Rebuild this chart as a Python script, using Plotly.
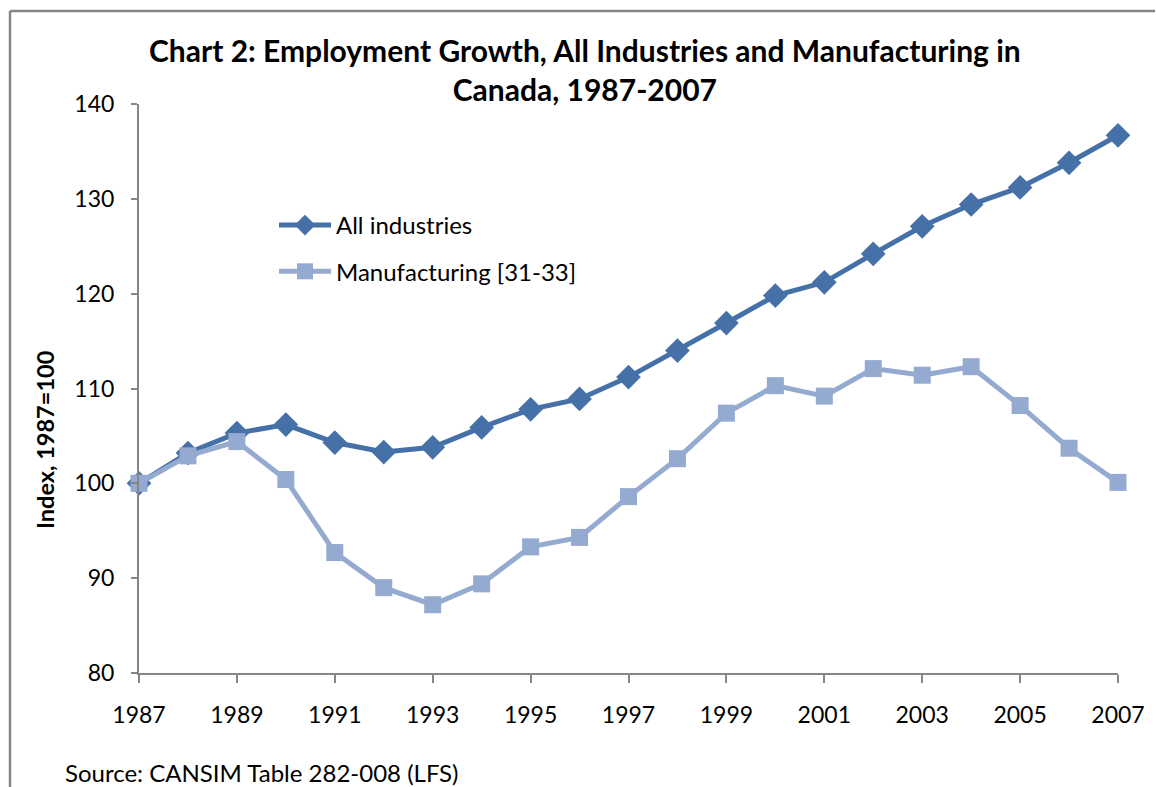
import plotly.graph_objects as go

years = list(range(1987, 2008))
all_industries = [100.0, 103.2, 105.3, 106.2, 104.3, 103.3, 103.8, 105.9, 107.8, 108.9,
                  111.2, 114.0, 116.9, 119.8, 121.2, 124.2, 127.1, 129.4, 131.2, 133.8, 136.7]
manufacturing = [100.0, 102.9, 104.4, 100.4, 92.7, 89.0, 87.2, 89.4, 93.3, 94.3,
                 98.6, 102.6, 107.4, 110.3, 109.2, 112.1, 111.4, 112.3, 108.2, 103.7, 100.1]

FONT = "Lato, 'Open Sans', sans-serif"
AXIS_GREY = "#868686"

# plot-area placement in pixels
W, H = 1156, 787
L, R, T, B = 139, 38, 104, 114
pw, ph = W - L - R, H - T - B


def px_x(px):
    return (px - L) / pw


def px_y(py):
    return (H - B - py) / ph


fig = go.Figure()
fig.add_trace(go.Scatter(
    x=years, y=all_industries, name="All industries", mode="lines+markers",
    line=dict(color="#4571A8", width=5),
    marker=dict(symbol="diamond", size=19, color="#4571A8"),
    cliponaxis=False, legendgroup="a",
))
fig.add_trace(go.Scatter(
    x=years, y=manufacturing, name="Manufacturing [31-33]", mode="lines+markers",
    line=dict(color="#94AAD1", width=5),
    marker=dict(symbol="square", size=17, color="#94AAD1"),
    cliponaxis=False, legendgroup="b",
))

# outer chart frame: left and top edges
fig.add_shape(type="line", xref="paper", yref="paper",
              x0=px_x(10), x1=px_x(10), y0=px_y(H + 5), y1=px_y(11),
              line=dict(color=AXIS_GREY, width=2.5))
fig.add_shape(type="line", xref="paper", yref="paper",
              x0=px_x(10), x1=px_x(W - 1), y0=px_y(11), y1=px_y(11),
              line=dict(color=AXIS_GREY, width=2.5))

fig.add_annotation(
    text="<b>Chart 2: Employment Growth, All Industries and Manufacturing in<br>Canada, 1987-2007</b>",
    xref="paper", yref="paper", x=px_x(585), y=px_y(69),
    xanchor="center", yanchor="middle", showarrow=False,
    font=dict(family=FONT, size=30, color="#000000"),
)
fig.add_annotation(
    text="<b>Index, 1987=100</b>", xref="paper", yref="paper",
    x=px_x(45), y=px_y(440), xanchor="center", yanchor="middle",
    textangle=-90, showarrow=False,
    font=dict(family=FONT, size=23.5, color="#000000"),
)
fig.add_annotation(
    text="Source: CANSIM Table 282-008 (LFS)", xref="paper", yref="paper",
    x=px_x(63), y=px_y(772), xanchor="left", yanchor="middle",
    showarrow=False, font=dict(family=FONT, size=24, color="#000000"),
)

fig.update_layout(
    width=W, height=H,
    margin=dict(l=L, r=R, t=T, b=B, pad=0),
    paper_bgcolor="white", plot_bgcolor="white",
    font=dict(family=FONT, size=23, color="#000000"),
    legend=dict(
        x=px_x(274), y=px_y(203), xanchor="left", yanchor="top",
        bgcolor="rgba(0,0,0,0)", font=dict(family=FONT, size=24),
        tracegroupgap=12, itemwidth=52,
    ),
    xaxis=dict(
        range=[1987, 2007], tick0=1987, dtick=2, showgrid=False, zeroline=False,
        showline=True, linecolor=AXIS_GREY, linewidth=2,
        ticks="outside", ticklen=8, tickcolor=AXIS_GREY, tickwidth=2,
        tickfont=dict(family=FONT, size=23), ticklabelstandoff=12,
    ),
    yaxis=dict(
        range=[80, 140], dtick=10, showgrid=False, zeroline=False,
        showline=True, linecolor=AXIS_GREY, linewidth=2,
        ticks="outside", ticklen=6, tickcolor=AXIS_GREY, tickwidth=2,
        tickfont=dict(family=FONT, size=23), ticklabelstandoff=12,
    ),
)

fig.write_html("out.html")
